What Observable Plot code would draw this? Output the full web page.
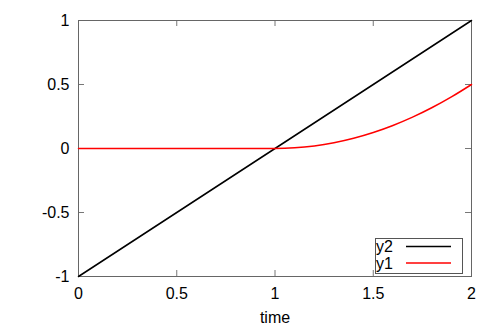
<!DOCTYPE html>
<html>
<head>
<meta charset="utf-8">
<script src="https://cdn.jsdelivr.net/npm/d3@7"></script>
<script src="https://cdn.jsdelivr.net/npm/@observablehq/plot@0.6"></script>
<style>
  html, body { margin: 0; padding: 0; background: #fff; }
  #chart { width: 498px; height: 332px; }
  #chart svg text { font-family: "Liberation Sans", Arial, sans-serif !important; font-size: 16px !important; }
</style>
</head>
<body>
<div id="chart"></div>
<script>
// Data
const timeY2 = [0, 2];
const valuesY2 = [-1, 1];
const timeY1 = [0, 0.5, 1.0, 1.1, 1.2, 1.3, 1.4, 1.5, 1.6, 1.7, 1.8, 1.9, 2.0];
const valuesY1 = [0, 0, 0, 0.005, 0.02, 0.045, 0.08, 0.125, 0.18, 0.245, 0.32, 0.405, 0.5];
const xTicks = [0, 0.5, 1, 1.5, 2];
const yTicks = [-1, -0.5, 0, 0.5, 1];
const seriesNames = ["y2", "y1"];
const seriesColors = ["#000000", "#ff0000"];

const y2 = timeY2.map((t, i) => ({time: t, value: valuesY2[i]}));
const y1 = timeY1.map((t, i) => ({time: t, value: valuesY1[i]}));

const W = 498, H = 332;
const mL = 78, mR = 27, mT = 20, mB = 56;
const fw = W - mL - mR, fh = H - mT - mB;
const tick = 6;

const chart = Plot.plot({
  width: W, height: H,
  marginLeft: mL, marginRight: mR, marginTop: mT, marginBottom: mB,
  style: {fontFamily: '"Liberation Sans", Arial, sans-serif', fontSize: "16px", background: "#fff", color: "#000"},
  x: {domain: [0, 2]},
  y: {domain: [-1, 1]},
  marks: [
    Plot.tickX(xTicks, {x: d => d, stroke: "#777", insetTop: fh - tick}),
    Plot.tickX(xTicks, {x: d => d, stroke: "#777", insetBottom: fh - tick}),
    Plot.tickY(yTicks, {y: d => d, stroke: "#777", insetRight: fw - tick}),
    Plot.tickY(yTicks, {y: d => d, stroke: "#777", insetLeft: fw - tick}),
    Plot.frame({stroke: "#666", strokeWidth: 1}),
    Plot.axisX(xTicks, {tickSize: 0, tickPadding: 11, label: null, tickFormat: d => String(d)}),
    Plot.axisY(yTicks, {tickSize: 0, tickPadding: 9, label: null, tickFormat: d => String(d)}),
    Plot.text(["time"], {frameAnchor: "bottom", dy: 46, dx: 0, fill: "#000"}),
    Plot.line(y2, {x: "time", y: "value", stroke: seriesColors[0], strokeWidth: 1.5}),
    Plot.line(y1, {x: "time", y: "value", stroke: seriesColors[1], strokeWidth: 1.5, curve: "monotone-x"})
  ]
});

document.getElementById("chart").appendChild(chart);

// Legend (box at lower right inside the frame)
const svg = d3.select(chart);
const lg = svg.append("g").attr("text-anchor", "start");
const bx = 375, by = 238, bw = 87, bh = 35;
lg.append("rect").attr("x", bx + 0.5).attr("y", by + 0.5).attr("width", bw).attr("height", bh)
  .attr("fill", "#fff").attr("stroke", "#555").attr("stroke-width", 1);
seriesNames.forEach((name, i) => {
  const cy = 246.5 + i * 16.5;
  lg.append("text").attr("x", bx + 1).attr("y", cy).attr("dy", "0.35em")
    .attr("text-anchor", "start").attr("fill", "#000").text(name);
  lg.append("line").attr("x1", 406).attr("x2", 451).attr("y1", cy).attr("y2", cy)
    .attr("stroke", seriesColors[i]).attr("stroke-width", 1.5);
});
</script>
</body>
</html>
